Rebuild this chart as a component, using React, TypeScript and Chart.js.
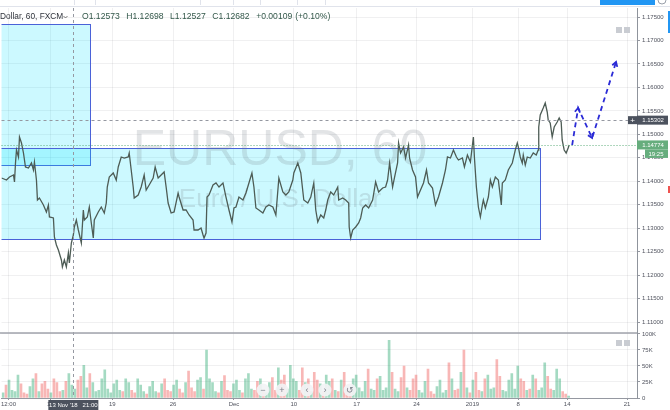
import React, { useEffect, useRef } from "react";
import { Chart, registerables } from "chart.js";
Chart.register(...registerables);

const FONT = '"Liberation Sans", Arial, sans-serif';

// x unit = hourly bar index of the visible window
const X_MIN = 0;
const X_MAX = 1274;
const TIME_TICKS = [14, 98, 222, 344, 466, 586, 712, 832, 944, 1036, 1134, 1254];
const TIME_LABELS = ["12:00", "12", "19", "26", "Dec", "10", "17", "24", "2019", "8", "14", "21"];

const PRICE_MIN = 1.10766;
const PRICE_MAX = 1.17692;
const PRICE_TICKS = [1.11, 1.115, 1.12, 1.125, 1.13, 1.135, 1.14, 1.145, 1.15, 1.155, 1.16, 1.165, 1.17, 1.175];

const VOL_MAX = 101560;
const VOL_TICKS = [0, 25000, 50000, 75000, 100000];
const VOL_LABELS = ["0", "25K", "50K", "75K", "100K"];

// [bar, close] traced from the EURUSD 60 series
const PRICE_PATH: [number, number][] = [
  [0, 1.14069], [10, 1.14026], [16, 1.1409], [24, 1.14133], [26, 1.13984], [28, 1.14389], [30, 1.14666], [34, 1.14517],
  [36, 1.14943], [40, 1.14815], [44, 1.14602], [48, 1.14304], [54, 1.14282], [60, 1.14389], [64, 1.1424], [66, 1.1441],
  [70, 1.14026], [72, 1.136], [76, 1.13643], [84, 1.13494], [90, 1.13345], [94, 1.13494], [96, 1.13238], [104, 1.13217],
  [106, 1.12812], [110, 1.12641], [114, 1.12535], [120, 1.12322], [122, 1.12173], [126, 1.12322], [130, 1.12173], [134, 1.12471],
  [136, 1.12258], [140, 1.12684], [144, 1.12854], [146, 1.13025], [150, 1.13174], [154, 1.12961], [160, 1.12684], [164, 1.13387],
  [166, 1.13174], [172, 1.13238], [176, 1.13451], [180, 1.1311], [184, 1.1279], [186, 1.13174], [194, 1.13345], [200, 1.13451],
  [206, 1.13323], [210, 1.13536], [212, 1.13877], [216, 1.1409], [224, 1.14176], [230, 1.14026], [234, 1.14304], [240, 1.14517],
  [246, 1.14495], [254, 1.14517], [256, 1.14602], [260, 1.1424], [264, 1.13877], [266, 1.13643], [274, 1.13707], [280, 1.13877],
  [286, 1.14133], [290, 1.13813], [296, 1.1392], [304, 1.14069], [308, 1.14304], [314, 1.14069], [320, 1.14133], [326, 1.14197],
  [330, 1.13877], [334, 1.13536], [340, 1.13323], [346, 1.13345], [354, 1.13749], [356, 1.13664], [364, 1.13387], [370, 1.13387],
  [376, 1.13281], [384, 1.13174], [386, 1.12961], [394, 1.12961], [400, 1.13004], [404, 1.12854], [406, 1.1279], [410, 1.12897],
  [412, 1.13664], [416, 1.13707], [424, 1.1392], [430, 1.13963], [436, 1.13877], [444, 1.13963], [450, 1.13664], [456, 1.13387],
  [462, 1.13131], [466, 1.1343], [470, 1.13451], [476, 1.13664], [484, 1.136], [490, 1.13749], [496, 1.13963], [502, 1.14176],
  [506, 1.13877], [510, 1.1343], [516, 1.13387], [524, 1.13323], [530, 1.13451], [536, 1.13494], [544, 1.13451], [550, 1.13281],
  [556, 1.14069], [564, 1.13771], [570, 1.13707], [576, 1.13771], [584, 1.14026], [586, 1.14176], [594, 1.14389], [600, 1.14176],
  [606, 1.136], [614, 1.13536], [620, 1.13664], [626, 1.13963], [630, 1.13387], [634, 1.13131], [640, 1.13281], [646, 1.13217],
  [650, 1.13387], [654, 1.136], [660, 1.13771], [666, 1.13707], [674, 1.13877], [676, 1.136], [684, 1.13643], [690, 1.136],
  [696, 1.13536], [697, 1.13025], [700, 1.1279], [704, 1.12961], [710, 1.13025], [716, 1.1311], [720, 1.13217], [724, 1.1343],
  [730, 1.13494], [736, 1.1343], [744, 1.136], [750, 1.13984], [756, 1.13771], [764, 1.13856], [770, 1.13877], [774, 1.14026],
  [778, 1.14389], [784, 1.13877], [788, 1.1409], [794, 1.14389], [796, 1.14815], [800, 1.14602], [806, 1.1473], [810, 1.14495],
  [816, 1.14772], [818, 1.14495], [824, 1.1424], [830, 1.1409], [834, 1.13664], [840, 1.13813], [846, 1.13963], [852, 1.1424],
  [856, 1.13963], [864, 1.13856], [870, 1.13494], [876, 1.13664], [884, 1.13963], [890, 1.1424], [894, 1.14517], [900, 1.14495],
  [906, 1.14666], [912, 1.14517], [916, 1.14453], [924, 1.14495], [928, 1.14304], [934, 1.14559], [940, 1.1441], [946, 1.14943],
  [948, 1.14517], [952, 1.13877], [956, 1.13451], [960, 1.13238], [964, 1.13494], [966, 1.136], [970, 1.1343], [976, 1.13664],
  [980, 1.14026], [984, 1.13877], [990, 1.1409], [996, 1.14026], [1002, 1.13494], [1004, 1.13963], [1010, 1.14026], [1016, 1.1424],
  [1024, 1.14389], [1030, 1.14666], [1034, 1.14815], [1036, 1.1473], [1040, 1.14517], [1044, 1.14389], [1046, 1.14559], [1050, 1.14346],
  [1054, 1.14517], [1060, 1.14495], [1066, 1.14602], [1072, 1.14559], [1076, 1.14666], [1077, 1.15156], [1080, 1.15412], [1086, 1.15561],
  [1090, 1.15667], [1094, 1.15476], [1096, 1.15305], [1100, 1.15241], [1104, 1.14943], [1108, 1.15156], [1114, 1.15262], [1118, 1.15348],
  [1122, 1.15262], [1124, 1.14879], [1128, 1.14666], [1132, 1.14602], [1136, 1.14708], [1138, 1.14772],
];

// volume in thousands, one value per 6-bar bucket
const VOLUME_BUCKET = 6;
const VOLUME_K = [
  8, 20, 28, 12, 10, 36, 22, 8, 6, 18, 30, 38, 10, 22, 26, 14, 8, 30, 24, 10,
  12, 26, 38, 20, 14, 28, 34, 51, 16, 38, 24, 10, 12, 30, 44, 14, 8, 22, 28, 12,
  10, 30, 24, 12, 8, 30, 20, 10, 6, 18, 26, 10, 8, 22, 30, 12, 10, 20, 28, 14,
  8, 24, 42, 16, 10, 28, 32, 14, 75, 30, 24, 10, 8, 26, 35, 12, 10, 22, 28, 12,
  8, 30, 38, 14, 12, 26, 30, 10, 8, 24, 32, 12, 47, 28, 36, 14, 51, 30, 26, 12,
  47, 24, 30, 10, 40, 28, 22, 10, 36, 26, 30, 12, 10, 28, 40, 14, 12, 30, 36, 16,
  10, 26, 45, 14, 12, 30, 34, 12, 16, 90, 40, 14, 10, 32, 50, 16, 12, 30, 36, 12,
  8, 26, 45, 10, 6, 18, 28, 8, 12, 55, 30, 12, 14, 40, 75, 16, 8, 28, 40, 12,
  10, 30, 36, 14, 16, 60, 34, 12, 10, 28, 38, 14, 50, 30, 26, 12, 14, 36, 30, 12,
  16, 55, 34, 14, 12, 45, 30, 10, 6, 3,
];

// drawings
const ZONE_UPPER = [-200, 178, 1.17351, 1.14346]; // barFrom, barTo, top, bottom
const ZONE_LOWER = [-200, 1080, 1.14708, 1.12769];
const PROJECTION: [number, number][] = [[1144, 1.14772], [1156, 1.15561], [1184, 1.14922], [1232, 1.16541]];
const CROSSHAIR_BAR = 144;
const CROSSHAIR_PRICE = 1.15302;
const LAST_PRICE = 1.14774;
const HEADER_SYMBOL = "Dollar, 60, FXCM";
const HEADER_OHLC = ["O1.12573", "H1.12698", "L1.12527", "C1.12682", "+0.00109", "(+0.10%)"];
const CROSSHAIR_TIME = "13 Nov '18   21:00";
const COUNTDOWN = "19:25";

function priceAt(bar: number) {
  let p = PRICE_PATH[0][1];
  for (const [b, v] of PRICE_PATH) {
    if (b <= bar) p = v;
    else break;
  }
  return p;
}

function chevron(ctx: CanvasRenderingContext2D, x1: number, y1: number, x2: number, y2: number, len: number) {
  const ang = Math.atan2(y2 - y1, x2 - x1);
  const a1 = ang + Math.PI - 0.55;
  const a2 = ang + Math.PI + 0.55;
  ctx.beginPath();
  ctx.moveTo(x2 + len * Math.cos(a1), y2 + len * Math.sin(a1));
  ctx.lineTo(x2, y2);
  ctx.lineTo(x2 + len * Math.cos(a2), y2 + len * Math.sin(a2));
  ctx.stroke();
}

const overlay = {
  id: "overlay",
  beforeDatasetsDraw(chart: any) {
    const { ctx, chartArea: a, scales } = chart;
    const x = scales.x, y = scales.y;
    ctx.save();
    ctx.beginPath();
    ctx.rect(a.left, y.top, a.right - a.left, y.bottom - y.top);
    ctx.clip();
    for (const z of [ZONE_UPPER, ZONE_LOWER]) {
      const x0 = x.getPixelForValue(z[0]);
      const x1 = Math.round(x.getPixelForValue(z[1])) + 0.5;
      const y0 = Math.round(y.getPixelForValue(z[2])) + 0.5;
      const y1 = Math.round(y.getPixelForValue(z[3])) + 0.5;
      ctx.fillStyle = "rgba(0,225,255,0.2)";
      ctx.fillRect(x0, y0, x1 - x0, y1 - y0);
      ctx.strokeStyle = "#4a62d8";
      ctx.lineWidth = 1;
      ctx.strokeRect(x0, y0, x1 - x0, y1 - y0);
    }
    ctx.fillStyle = "rgba(110,120,130,0.2)";
    ctx.textAlign = "center";
    ctx.textBaseline = "alphabetic";
    ctx.font = `50px ${FONT}`;
    ctx.fillText("EURUSD, 60", 280, 165);
    ctx.font = `26px ${FONT}`;
    ctx.fillText("Euro / U.S. Dollar", 280, 207);
    ctx.restore();
  },
  afterDatasetsDraw(chart: any) {
    const { ctx, chartArea: a, scales } = chart;
    const x = scales.x, y = scales.y;
    ctx.save();
    // arrowheads on projection
    ctx.strokeStyle = "#2b2bd6";
    ctx.lineWidth = 1.8;
    for (let i = 1; i < PROJECTION.length; i++) {
      const p0 = PROJECTION[i - 1], p1 = PROJECTION[i];
      chevron(ctx, x.getPixelForValue(p0[0]), y.getPixelForValue(p0[1]), x.getPixelForValue(p1[0]), y.getPixelForValue(p1[1]), 5);
    }
    // crosshair
    ctx.strokeStyle = "#9598a1";
    ctx.lineWidth = 1;
    ctx.setLineDash([3, 3]);
    const cx = Math.round(x.getPixelForValue(CROSSHAIR_BAR)) + 0.5;
    ctx.beginPath();
    ctx.moveTo(cx, a.top);
    ctx.lineTo(cx, a.bottom);
    const cy = Math.round(y.getPixelForValue(CROSSHAIR_PRICE)) + 0.5;
    ctx.moveTo(a.left, cy);
    ctx.lineTo(a.right, cy);
    ctx.stroke();
    // last price line
    ctx.strokeStyle = "#5fae7c";
    ctx.setLineDash([1, 2]);
    const ly = Math.round(y.getPixelForValue(LAST_PRICE)) + 0.5;
    ctx.beginPath();
    ctx.moveTo(a.left, ly);
    ctx.lineTo(a.right, ly);
    ctx.stroke();
    ctx.setLineDash([]);
    // pane separator
    ctx.strokeStyle = "#a0a3ab";
    ctx.lineWidth = 1.5;
    ctx.beginPath();
    ctx.moveTo(0, y.bottom);
    ctx.lineTo(a.right, y.bottom);
    ctx.stroke();
    ctx.restore();
  },
  afterDraw(chart: any) {
    const { ctx, chartArea: a, scales } = chart;
    const x = scales.x, y = scales.y;
    ctx.save();
    // toolbar strip
    ctx.fillStyle = "#ffffff";
    ctx.fillRect(0, 0, 670, 6);
    ctx.strokeStyle = "#e0e3eb";
    ctx.lineWidth = 1;
    ctx.beginPath();
    ctx.moveTo(0, 6.5);
    ctx.lineTo(670, 6.5);
    for (const sx of [74, 95, 200, 233, 260, 297, 325]) {
      ctx.moveTo(sx + 0.5, 0);
      ctx.lineTo(sx + 0.5, 5);
    }
    ctx.stroke();
    ctx.fillStyle = "#2196f3";
    ctx.fillRect(600, 0, 55, 5);
    ctx.strokeStyle = "#9aa0aa";
    ctx.beginPath();
    ctx.arc(662, 0, 4, 0, Math.PI);
    ctx.stroke();
    ctx.fillStyle = "#2196f3";
    ctx.fillRect(668, 11, 2, 22);
    ctx.fillStyle = "#ef5350";
    ctx.fillRect(668, 186, 2, 7);

    // header legend
    ctx.textBaseline = "middle";
    ctx.textAlign = "left";
    ctx.font = `8.3px ${FONT}`;
    ctx.fillStyle = "#30343c";
    ctx.fillText(HEADER_SYMBOL, 0, 17);
    ctx.strokeStyle = "#555";
    ctx.lineWidth = 0.8;
    ctx.beginPath();
    ctx.moveTo(63.5, 16);
    ctx.lineTo(65.5, 18);
    ctx.lineTo(67.5, 16);
    ctx.stroke();
    ctx.font = `8.6px ${FONT}`;
    let hx = 82;
    HEADER_OHLC.forEach((t, i) => {
      ctx.fillStyle = "#33584a";
      ctx.fillText(t, hx, 17);
      hx += ctx.measureText(t).width + (i === 4 ? 3 : 6.5);
    });

    // small pane buttons
    ctx.fillStyle = "#c9ccd2";
    for (const by of [27, 340]) {
      ctx.fillRect(616, by, 6, 6);
      ctx.fillRect(624, by, 6, 6);
    }

    // navigation buttons
    const nav = [["−", 263], ["+", 282], ["‹", 307], ["›", 325], ["↺", 350]] as [string, number][];
    for (const [g, nx] of nav) {
      ctx.fillStyle = "rgba(242,243,245,0.92)";
      ctx.beginPath();
      ctx.arc(nx, 390, 6.5, 0, Math.PI * 2);
      ctx.fill();
      ctx.fillStyle = "#7b7f88";
      ctx.font = `9px ${FONT}`;
      ctx.textAlign = "center";
      ctx.fillText(g, nx, 390.5);
    }

    // price axis labels
    ctx.font = `6px ${FONT}`;
    ctx.textAlign = "center";
    const cy = y.getPixelForValue(CROSSHAIR_PRICE);
    ctx.fillStyle = "#4c525e";
    ctx.fillRect(637, cy - 4.5, 31, 9);
    ctx.fillRect(628, cy - 4, 9, 8);
    ctx.fillStyle = "#ffffff";
    ctx.fillText(CROSSHAIR_PRICE.toFixed(5), 653, cy);
    ctx.font = `8px ${FONT}`;
    ctx.fillText("+", 632.5, cy + 0.5);
    const ly = y.getPixelForValue(LAST_PRICE);
    ctx.fillStyle = "#66ad7d";
    ctx.fillRect(637, ly - 4.5, 31, 9);
    ctx.fillRect(645, ly + 4.5, 23, 8.5);
    ctx.fillStyle = "#ffffff";
    ctx.font = `6px ${FONT}`;
    ctx.fillText(LAST_PRICE.toFixed(5), 653, ly);
    ctx.fillText(COUNTDOWN, 656, ly + 9);

    // time axis crosshair label
    const cx = x.getPixelForValue(CROSSHAIR_BAR);
    ctx.fillStyle = "#4c525e";
    ctx.fillRect(cx - 25, a.bottom + 2, 50, 12);
    ctx.fillStyle = "#ffffff";
    ctx.fillText(CROSSHAIR_TIME, cx, a.bottom + 7.5);
    ctx.restore();
  },
};

export default function App() {
  const ref = useRef<HTMLCanvasElement>(null);
  useEffect(() => {
    if (!ref.current) return;
    const volData = VOLUME_K.map((v, i) => ({ x: i * VOLUME_BUCKET + VOLUME_BUCKET / 2, y: v * 1000 }));
    const volColors = VOLUME_K.map((_, i) => {
      const s = priceAt(i * VOLUME_BUCKET);
      const e = priceAt(i * VOLUME_BUCKET + VOLUME_BUCKET);
      return e >= s ? "rgba(38,166,110,0.42)" : "rgba(239,83,80,0.42)";
    });
    const tickFont = { size: 6, family: FONT };
    const chart = new Chart(ref.current, {
      type: "line",
      data: {
        datasets: [
          {
            type: "line",
            data: PRICE_PATH.map(([b, p]) => ({ x: b, y: p })),
            yAxisID: "y",
            borderColor: "#4d5c55",
            borderWidth: 1.3,
            pointRadius: 0,
            tension: 0,
          },
          {
            type: "line",
            data: PROJECTION.map(([b, p]) => ({ x: b, y: p })),
            yAxisID: "y",
            borderColor: "#2b2bd6",
            borderWidth: 1.8,
            borderDash: [5, 4],
            pointRadius: 0,
            tension: 0,
          },
          {
            type: "bar",
            data: volData,
            yAxisID: "yv",
            backgroundColor: volColors,
            barThickness: 2,
          } as any,
        ],
      },
      options: {
        animation: false,
        responsive: false,
        devicePixelRatio: 1,
        layout: { padding: { top: 8, left: 0, right: 0, bottom: 0 } },
        plugins: { legend: { display: false }, tooltip: { enabled: false } },
        scales: {
          x: {
            type: "linear",
            min: X_MIN,
            max: X_MAX,
            offset: false,
            position: "bottom",
            afterBuildTicks: (s: any) => {
              s.ticks = TIME_TICKS.map((v) => ({ value: v }));
            },
            afterFit: (s: any) => {
              s.height = 12;
            },
            ticks: {
              autoSkip: false,
              maxRotation: 0,
              font: tickFont,
              color: "#50535e",
              padding: 1,
              callback: (v: any) => TIME_LABELS[TIME_TICKS.indexOf(v)] ?? "",
            },
            grid: { color: "rgba(42,46,57,0.07)", tickLength: 2, tickColor: "#9598a1", offset: false },
            border: { color: "#9598a1" },
          },
          y: {
            type: "linear",
            position: "right",
            stack: "panes",
            stackWeight: 325,
            min: PRICE_MIN,
            max: PRICE_MAX,
            afterBuildTicks: (s: any) => {
              s.ticks = PRICE_TICKS.map((v) => ({ value: v }));
            },
            afterFit: (s: any) => {
              s.width = 33;
            },
            ticks: {
              autoSkip: false,
              font: tickFont,
              color: "#50535e",
              padding: 2,
              callback: (v: any) => Number(v).toFixed(5),
            },
            grid: { color: "rgba(42,46,57,0.07)", tickLength: 3, tickColor: "#9598a1" },
            border: { color: "#8f949c" },
          },
          yv: {
            type: "linear",
            position: "right",
            stack: "panes",
            stackWeight: 65,
            min: 0,
            max: VOL_MAX,
            afterBuildTicks: (s: any) => {
              s.ticks = VOL_TICKS.map((v) => ({ value: v }));
            },
            afterFit: (s: any) => {
              s.width = 33;
            },
            ticks: {
              autoSkip: false,
              font: tickFont,
              color: "#50535e",
              padding: 2,
              callback: (v: any) => VOL_LABELS[VOL_TICKS.indexOf(v)] ?? "",
            },
            grid: { color: "rgba(42,46,57,0.07)", tickLength: 3, tickColor: "#9598a1" },
            border: { color: "#8f949c" },
          },
        },
      },
      plugins: [overlay],
    } as any);
    return () => chart.destroy();
  }, []);
  return (
    <div style={{ position: "absolute", left: 0, top: 0, width: 670, height: 410, background: "#fff" }}>
      <canvas ref={ref} width={670} height={410} style={{ display: "block", width: 670, height: 410 }} />
    </div>
  );
}
